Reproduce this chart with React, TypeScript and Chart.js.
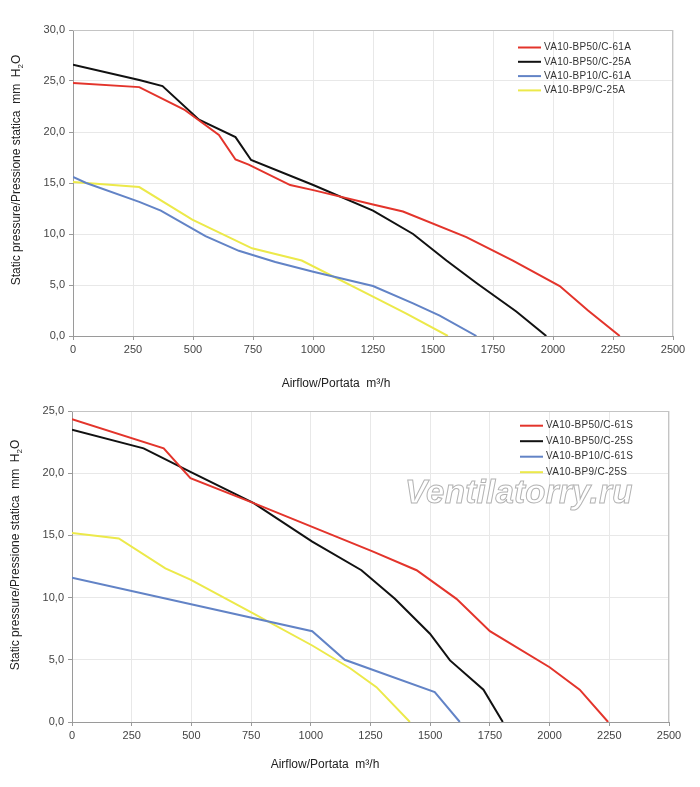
import { useEffect, useRef } from "react";
import { Chart, registerables } from "chart.js";

Chart.register(...registerables);

// ---------- shared axis data ----------
const X_TICKS = [0, 250, 500, 750, 1000, 1250, 1500, 1750, 2000, 2250, 2500];
const TOP_Y_TICKS = [0, 5, 10, 15, 20, 25, 30];
const BOTTOM_Y_TICKS = [0, 5, 10, 15, 20, 25];

// ---------- top chart (A series) ----------
const A_LABELS = ["VA10-BP50/C-61A", "VA10-BP50/C-25A", "VA10-BP10/C-61A", "VA10-BP9/C-25A"];
const A_RED_X = [0, 276, 463, 608, 677, 732, 905, 1001, 1250, 1375, 1639, 1833, 2028, 2146, 2278];
const A_RED_Y = [24.8, 24.4, 22.2, 19.7, 17.3, 16.8, 14.8, 14.3, 12.9, 12.2, 9.7, 7.4, 4.9, 2.5, 0];
const A_BLACK_X = [0, 276, 373, 525, 677, 742, 1001, 1250, 1417, 1556, 1681, 1847, 1972];
const A_BLACK_Y = [26.6, 25.1, 24.5, 21.2, 19.5, 17.25, 14.8, 12.3, 10.0, 7.4, 5.2, 2.4, 0];
const A_BLUE_X = [0, 55, 276, 366, 552, 691, 843, 1001, 1250, 1417, 1528, 1681];
const A_BLUE_Y = [15.6, 15.0, 13.15, 12.3, 9.8, 8.35, 7.25, 6.3, 4.9, 3.2, 2.0, 0];
const A_YELLOW_X = [0, 276, 497, 746, 953, 1250, 1389, 1562];
const A_YELLOW_Y = [15.1, 14.6, 11.4, 8.6, 7.4, 3.85, 2.2, 0];

// ---------- bottom chart (S series) ----------
const B_LABELS = ["VA10-BP50/C-61S", "VA10-BP50/C-25S", "VA10-BP10/C-61S", "VA10-BP9/C-25S"];
const B_RED_X = [0, 384, 496, 761, 1261, 1443, 1610, 1750, 2000, 2126, 2245];
const B_RED_Y = [24.35, 22.0, 19.6, 17.6, 13.7, 12.2, 9.9, 7.3, 4.4, 2.6, 0];
const B_BLACK_X = [0, 300, 496, 761, 1006, 1212, 1352, 1499, 1583, 1723, 1804];
const B_BLACK_Y = [23.5, 22.0, 20.1, 17.6, 14.5, 12.2, 9.9, 7.1, 4.95, 2.6, 0];
const B_BLUE_X = [0, 1006, 1142, 1519, 1624];
const B_BLUE_Y = [11.6, 7.3, 5.0, 2.4, 0];
const B_YELLOW_X = [0, 196, 391, 496, 747, 1006, 1166, 1275, 1415];
const B_YELLOW_Y = [15.2, 14.75, 12.35, 11.45, 8.85, 6.15, 4.3, 2.8, 0];

const X_TITLE = "Airflow/Portata  m³/h";
const Y_TITLE_MAIN = "Static pressure/Pressione statica  mm  H";
const Y_TITLE_SUB = "2";
const Y_TITLE_END = "O";
const WATERMARK = "Ventilatorry.ru";

const COLORS = ["#e3342b", "#111111", "#6283c6", "#ece94a"];
const FONT = "'Liberation Sans', Arial, Helvetica, sans-serif";

const zip = (xs: number[], ys: number[]) => xs.map((x, i) => ({ x, y: ys[i] }));
const fmtY = (v: number) => v.toFixed(1).replace(".", ",");

const decorPlugin = {
  id: "decor",
  afterDraw(chart: any, _args: any, opts: any) {
    const { ctx, chartArea: a } = chart;
    ctx.save();
    // top & right frame
    ctx.strokeStyle = "#c4c4c4";
    ctx.lineWidth = 1;
    ctx.beginPath();
    ctx.moveTo(a.left, Math.round(a.top) + 0.5);
    ctx.lineTo(a.right, Math.round(a.top) + 0.5);
    ctx.moveTo(Math.round(a.right) - 0.5, a.top);
    ctx.lineTo(Math.round(a.right) - 0.5, a.bottom);
    ctx.stroke();

    // x title
    ctx.fillStyle = "#222";
    ctx.font = `12px ${FONT}`;
    ctx.textAlign = "center";
    ctx.textBaseline = "middle";
    ctx.fillText(X_TITLE, opts.xTitle.x, opts.xTitle.y);

    // y title with subscript
    ctx.save();
    ctx.translate(opts.yTitle.x, opts.yTitle.y);
    ctx.rotate(-Math.PI / 2);
    ctx.textAlign = "left";
    ctx.font = `12px ${FONT}`;
    const w1 = ctx.measureText(Y_TITLE_MAIN).width;
    const w3 = ctx.measureText(Y_TITLE_END).width;
    ctx.font = `8px ${FONT}`;
    const w2 = ctx.measureText(Y_TITLE_SUB).width;
    let sx = -(w1 + w2 + w3) / 2;
    ctx.font = `12px ${FONT}`;
    ctx.fillText(Y_TITLE_MAIN, sx, 0);
    sx += w1;
    ctx.font = `8px ${FONT}`;
    ctx.fillText(Y_TITLE_SUB, sx, 4);
    sx += w2;
    ctx.font = `12px ${FONT}`;
    ctx.fillText(Y_TITLE_END, sx, 0);
    ctx.restore();

    // legend
    const lg = opts.legend;
    ctx.font = `10px ${FONT}`;
    ctx.textAlign = "left";
    ctx.textBaseline = "middle";
    (ctx as any).letterSpacing = "0.3px";
    chart.data.datasets.forEach((ds: any, i: number) => {
      const y = lg.y + i * lg.gap;
      ctx.strokeStyle = ds.borderColor;
      ctx.lineWidth = 2;
      ctx.beginPath();
      ctx.moveTo(lg.x, y);
      ctx.lineTo(lg.x + lg.len, y);
      ctx.stroke();
      ctx.fillStyle = "#333";
      ctx.fillText(ds.label, lg.x + lg.len + 3, y);
    });
    (ctx as any).letterSpacing = "0px";

    // watermark
    if (opts.watermark) {
      const wm = opts.watermark;
      ctx.font = `italic bold 33px ${FONT}`;
      ctx.textAlign = "left";
      ctx.textBaseline = "alphabetic";
      (ctx as any).letterSpacing = "0.3px";
      ctx.fillStyle = "rgba(255,255,255,0.9)";
      ctx.fillText(WATERMARK, wm.x, wm.y);
      ctx.strokeStyle = "#b3b3b3";
      ctx.lineWidth = 1;
      ctx.strokeText(WATERMARK, wm.x, wm.y);
      (ctx as any).letterSpacing = "0px";
    }
    ctx.restore();
  },
};

type Cfg = {
  labels: string[];
  series: { x: number; y: number }[][];
  yMax: number;
  yTicks: number[];
  padTop: number;
  padRight: number;
  yWidth: number;
  xHeight: number;
  decor: any;
};

function makeConfig(c: Cfg): any {
  return {
    type: "line",
    data: {
      datasets: c.series.map((pts, i) => ({
        label: c.labels[i],
        data: pts,
        borderColor: COLORS[i],
        backgroundColor: COLORS[i],
        borderWidth: 2,
        pointRadius: 0,
        tension: 0,
        fill: false,
      })),
    },
    options: {
      responsive: false,
      animation: false,
      events: [],
      layout: { padding: { top: c.padTop, right: c.padRight, left: 0, bottom: 0 } },
      plugins: {
        legend: { display: false },
        tooltip: { enabled: false },
        decor: c.decor,
      },
      scales: {
        x: {
          type: "linear",
          min: 0,
          max: 2500,
          afterBuildTicks: (s: any) => {
            s.ticks = X_TICKS.map((v) => ({ value: v }));
          },
          afterFit: (s: any) => {
            s.height = c.xHeight;
          },
          ticks: {
            color: "#444",
            font: { family: FONT, size: 11 },
            padding: 3,
            maxRotation: 0,
            callback: (v: number) => String(v),
          },
          grid: { color: "#e8e8e8", tickColor: "#9a9a9a", tickLength: 4 },
          border: { display: true, color: "#9a9a9a", width: 1 },
        },
        y: {
          type: "linear",
          min: 0,
          max: c.yMax,
          afterBuildTicks: (s: any) => {
            s.ticks = c.yTicks.map((v) => ({ value: v }));
          },
          afterFit: (s: any) => {
            s.width = c.yWidth;
          },
          ticks: {
            color: "#444",
            font: { family: FONT, size: 11 },
            padding: 4,
            callback: (v: number) => fmtY(v),
          },
          grid: { color: "#e8e8e8", tickColor: "#9a9a9a", tickLength: 4 },
          border: { display: true, color: "#9a9a9a", width: 1 },
        },
      },
    },
    plugins: [decorPlugin],
  };
}

function ChartCanvas({ cfg, width, height }: { cfg: Cfg; width: number; height: number }) {
  const ref = useRef<HTMLCanvasElement | null>(null);
  useEffect(() => {
    if (!ref.current) return;
    const chart = new Chart(ref.current, makeConfig(cfg));
    return () => chart.destroy();
  }, []);
  return <canvas ref={ref} width={width} height={height} style={{ display: "block", width, height }} />;
}

const TOP_CFG: Cfg = {
  labels: A_LABELS,
  series: [zip(A_RED_X, A_RED_Y), zip(A_BLACK_X, A_BLACK_Y), zip(A_BLUE_X, A_BLUE_Y), zip(A_YELLOW_X, A_YELLOW_Y)],
  yMax: 30,
  yTicks: TOP_Y_TICKS,
  padTop: 30,
  padRight: 27,
  yWidth: 73,
  xHeight: 54,
  decor: {
    xTitle: { x: 336, y: 384 },
    yTitle: { x: 17, y: 170 },
    legend: { x: 518, y: 47.5, gap: 14.3, len: 23 },
  },
};

const BOTTOM_CFG: Cfg = {
  labels: B_LABELS,
  series: [zip(B_RED_X, B_RED_Y), zip(B_BLACK_X, B_BLACK_Y), zip(B_BLUE_X, B_BLUE_Y), zip(B_YELLOW_X, B_YELLOW_Y)],
  yMax: 25,
  yTicks: BOTTOM_Y_TICKS,
  padTop: 21,
  padRight: 31,
  yWidth: 72,
  xHeight: 65,
  decor: {
    xTitle: { x: 325, y: 375 },
    yTitle: { x: 16, y: 165 },
    legend: { x: 520, y: 35.7, gap: 15.5, len: 23 },
    watermark: { x: 405, y: 113 },
  },
};

export default function App() {
  return (
    <div style={{ position: "absolute", left: 0, top: 0, width: 700, height: 787, background: "#fff" }}>
      <ChartCanvas cfg={TOP_CFG} width={700} height={390} />
      <ChartCanvas cfg={BOTTOM_CFG} width={700} height={397} />
    </div>
  );
}
